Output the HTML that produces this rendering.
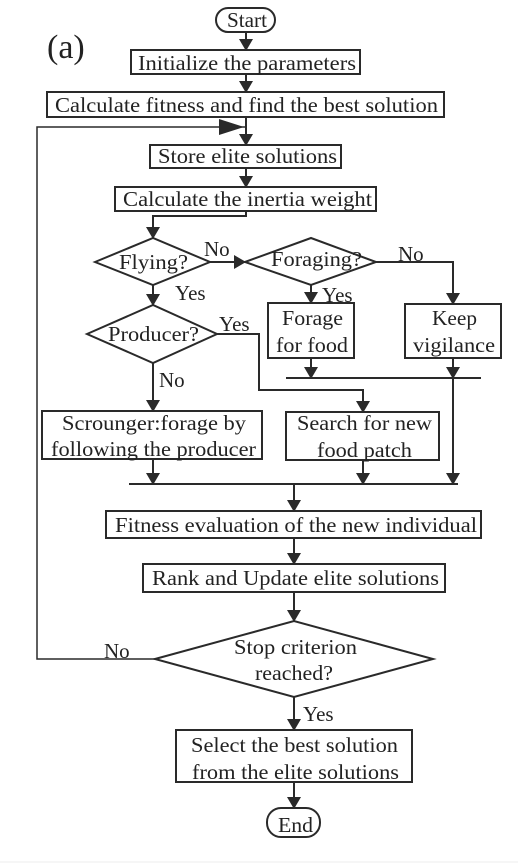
<!DOCTYPE html>
<html><head><style>
html,body{margin:0;padding:0;background:#fff}
svg text{font-family:"Liberation Serif",serif;fill:#222}
</style></head><body>
<svg width="518" height="863" viewBox="0 0 518 863" xmlns="http://www.w3.org/2000/svg">
<defs><marker id="a" markerWidth="12" markerHeight="14" refX="11" refY="7" orient="auto" markerUnits="userSpaceOnUse"><path d="M0,0 L12,7 L0,14 z" fill="#2a2a2a"/></marker></defs>
<g stroke="#2a2a2a" stroke-width="2" fill="none">
<rect x="216" y="8" width="59" height="24" rx="12"/>
<rect x="131" y="50" width="229" height="24"/>
<rect x="47" y="92" width="397" height="25"/>
<rect x="150" y="145" width="191" height="23"/>
<rect x="115" y="187" width="261" height="24"/>
<polygon points="95,262 153,238 210,262 153,285"/>
<polygon points="245,262 311,238 376,262 311,285"/>
<polygon points="87,334 153,305 217,334 153,363"/>
<rect x="268" y="303" width="86" height="55"/>
<rect x="405" y="304" width="96" height="54"/>
<rect x="42" y="411" width="220" height="48"/>
<rect x="286" y="412" width="153" height="48"/>
<rect x="106" y="511" width="375" height="27"/>
<rect x="143" y="564" width="302" height="28"/>
<polygon points="155,659 294,621 433,659 294,697"/>
<rect x="176" y="730" width="236" height="52"/>
<rect x="267" y="808" width="53" height="29" rx="14"/>
<line x1="246" y1="32" x2="246" y2="50" marker-end="url(#a)"/>
<line x1="246" y1="74" x2="246" y2="92" marker-end="url(#a)"/>
<line x1="246" y1="117" x2="246" y2="145" marker-end="url(#a)"/>
<line x1="246" y1="168" x2="246" y2="187" marker-end="url(#a)"/>
<polyline points="246,211 246,216 153,216 153,238" marker-end="url(#a)"/>
<line x1="210" y1="262" x2="245" y2="262" marker-end="url(#a)"/>
<polyline points="376,262 453,262 453,304" marker-end="url(#a)"/>
<line x1="153" y1="285" x2="153" y2="305" marker-end="url(#a)"/>
<line x1="311" y1="285" x2="311" y2="303" marker-end="url(#a)"/>
<polyline points="217,334 259,334 259,390 363,390 363,412" marker-end="url(#a)"/>
<line x1="153" y1="363" x2="153" y2="411" marker-end="url(#a)"/>
<line x1="311" y1="358" x2="311" y2="378" marker-end="url(#a)"/>
<line x1="453" y1="358" x2="453" y2="378" marker-end="url(#a)"/>
<line x1="286" y1="378" x2="481" y2="378"/>
<line x1="453" y1="378" x2="453" y2="484" marker-end="url(#a)"/>
<line x1="153" y1="459" x2="153" y2="484" marker-end="url(#a)"/>
<line x1="363" y1="460" x2="363" y2="484" marker-end="url(#a)"/>
<line x1="129" y1="484" x2="458" y2="484"/>
<line x1="294" y1="484" x2="294" y2="511" marker-end="url(#a)"/>
<line x1="294" y1="538" x2="294" y2="564" marker-end="url(#a)"/>
<line x1="294" y1="592" x2="294" y2="621" marker-end="url(#a)"/>
<line x1="294" y1="697" x2="294" y2="730" marker-end="url(#a)"/>
<line x1="294" y1="782" x2="294" y2="808" marker-end="url(#a)"/>
<polyline stroke-width="1.5" points="155,659 37,659 37,127 246,127"/>
</g>
<path d="M219,119 L244,127 L219,135 z" fill="#2a2a2a"/>
<line x1="0" y1="862" x2="518" y2="862" stroke="#eee" stroke-width="1"/>
<g font-size="21" lengthAdjust="spacingAndGlyphs">
<text x="227" y="27" textLength="40" lengthAdjust="spacingAndGlyphs">Start</text>
<text x="138" y="70" textLength="218" lengthAdjust="spacingAndGlyphs">Initialize the parameters</text>
<text x="55" y="112" textLength="383" lengthAdjust="spacingAndGlyphs">Calculate fitness and find the best solution</text>
<text x="158" y="163" textLength="179" lengthAdjust="spacingAndGlyphs">Store elite solutions</text>
<text x="123" y="206" textLength="249" lengthAdjust="spacingAndGlyphs">Calculate the inertia weight</text>
<text x="119" y="269" textLength="69" lengthAdjust="spacingAndGlyphs">Flying?</text>
<text x="271" y="266" textLength="91" lengthAdjust="spacingAndGlyphs">Foraging?</text>
<text x="108" y="341" textLength="91" lengthAdjust="spacingAndGlyphs">Producer?</text>
<text x="282" y="325" textLength="61" lengthAdjust="spacingAndGlyphs">Forage</text>
<text x="276" y="352" textLength="72" lengthAdjust="spacingAndGlyphs">for food</text>
<text x="432" y="325" textLength="45" lengthAdjust="spacingAndGlyphs">Keep</text>
<text x="413" y="352" textLength="82" lengthAdjust="spacingAndGlyphs">vigilance</text>
<text x="62" y="430" textLength="184" lengthAdjust="spacingAndGlyphs">Scrounger:forage by</text>
<text x="51" y="456" textLength="205" lengthAdjust="spacingAndGlyphs">following the producer</text>
<text x="297" y="430" textLength="135" lengthAdjust="spacingAndGlyphs">Search for new</text>
<text x="317" y="457" textLength="95" lengthAdjust="spacingAndGlyphs">food patch</text>
<text x="115" y="532" textLength="362" lengthAdjust="spacingAndGlyphs">Fitness evaluation of the new individual</text>
<text x="152" y="585" textLength="287" lengthAdjust="spacingAndGlyphs">Rank and Update elite solutions</text>
<text x="234" y="654" textLength="123" lengthAdjust="spacingAndGlyphs">Stop criterion</text>
<text x="255" y="680" textLength="78" lengthAdjust="spacingAndGlyphs">reached?</text>
<text x="191" y="752" textLength="207" lengthAdjust="spacingAndGlyphs">Select the best solution</text>
<text x="192" y="779" textLength="207" lengthAdjust="spacingAndGlyphs">from the elite solutions</text>
<text x="278" y="832" textLength="35" lengthAdjust="spacingAndGlyphs">End</text>
<text x="204" y="256">No</text>
<text x="398" y="261">No</text>
<text x="175" y="300">Yes</text>
<text x="322" y="302">Yes</text>
<text x="219" y="331">Yes</text>
<text x="159" y="387">No</text>
<text x="104" y="658">No</text>
<text x="303" y="721">Yes</text>
</g>
<text x="47" y="58" font-size="34">(a)</text>
</svg>
</body></html>
